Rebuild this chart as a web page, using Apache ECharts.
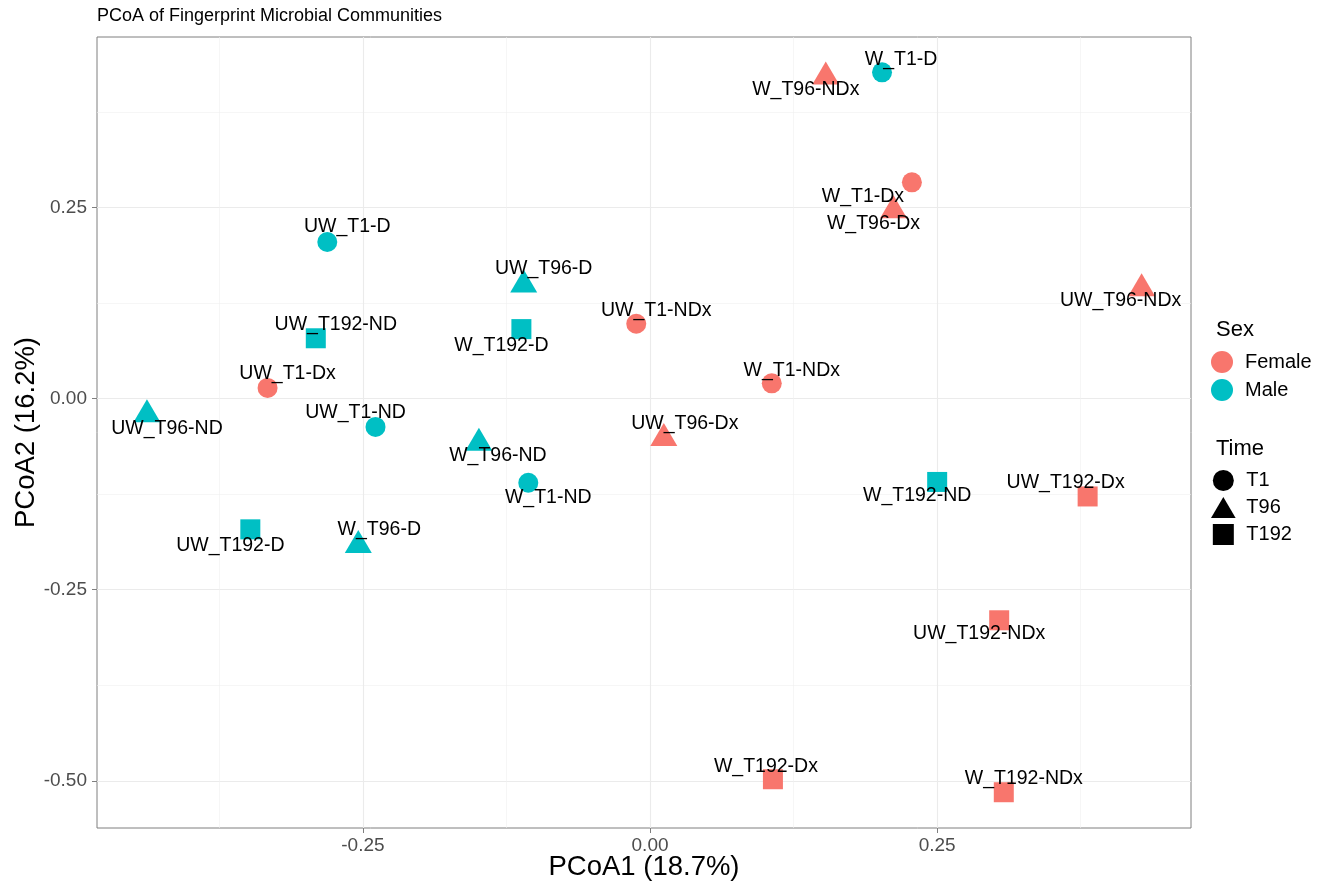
<!DOCTYPE html>
<html>
<head>
<meta charset="utf-8">
<title>PCoA</title>
<script src="https://cdn.jsdelivr.net/npm/echarts@6/dist/echarts.min.js"></script>
<style>
  html,body{margin:0;padding:0;background:#fff;}
  #main{width:1332px;height:895px;}
</style>
</head>
<body>
<div id="main"></div>
<script>
// sample data
const sampleNames = ['W_T96-NDx','W_T1-D','W_T1-Dx','W_T96-Dx','UW_T96-NDx','UW_T1-D','UW_T96-D','UW_T1-NDx',
  'UW_T192-ND','W_T192-D','UW_T1-Dx','W_T1-NDx','UW_T96-ND','UW_T1-ND','W_T96-ND','UW_T96-Dx',
  'W_T1-ND','W_T192-ND','UW_T192-Dx','UW_T192-D','W_T96-D','UW_T192-NDx','W_T192-Dx','W_T192-NDx'];
const pcoa1 = [0.153,0.202,0.228,0.212,0.428,-0.281,-0.110,-0.012,
  -0.291,-0.112,-0.333,0.106,-0.438,-0.239,-0.149,0.012,
  -0.106,0.250,0.381,-0.348,-0.254,0.304,0.107,0.308];
const pcoa2 = [0.426,0.427,0.283,0.251,0.149,0.205,0.154,0.098,
  0.079,0.091,0.014,0.020,-0.016,-0.037,-0.053,-0.047,
  -0.110,-0.109,-0.128,-0.171,-0.187,-0.290,-0.498,-0.515];
const sex = ['Female','Male','Female','Female','Female','Male','Male','Female',
  'Male','Male','Female','Female','Male','Male','Male','Female',
  'Male','Male','Female','Male','Male','Female','Female','Female'];
const time = ['T96','T1','T1','T96','T96','T1','T96','T1',
  'T192','T192','T1','T1','T96','T1','T96','T96',
  'T1','T192','T192','T192','T96','T192','T192','T192'];

const sexLevels = ['Female','Male'];
const timeLevels = ['T1','T96','T192'];
const xTicks = [-0.25, 0, 0.25];
const yTicks = [-0.5, -0.25, 0, 0.25];
const xMinor = [-0.375, -0.125, 0.125, 0.375];
const yMinor = [-0.375, -0.125, 0.125, 0.375];

// label nudges (px) like ggrepel did
const labelOffsets = [[-20,17],[19,-13],[-49,14],[-20,17],[-21,16],[20,-15],[20,-12],[20,-13],
  [20,-14],[-20,17],[20,-14],[20,-13],[20,18],[-20,-14],[19,16],[21,-11],
  [20,15],[-20,14],[-22,-14],[-20,16],[21,-12],[-20,13],[-7,-13],[20,-14]];

const colors = {Female:'#F8766D', Male:'#00BFC4'};
const shapes = {T1:'circle', T96:'triangle', T192:'rect'};
const sizes = {T1:20, T96:[27,23], T192:20};
const font = "'Liberation Sans', Arial, sans-serif";

let chart = echarts.init(document.getElementById('main'), null, {renderer:'canvas'});

let series = sexLevels.map(s => {
  let data = [];
  sampleNames.forEach((n, i) => {
    if (sex[i] != s) return;
    data.push({
      name: n,
      value: [pcoa1[i], pcoa2[i]],
      symbol: shapes[time[i]],
      symbolSize: sizes[time[i]],
      label: {offset: labelOffsets[i]}
    });
  });
  return {
    name: s,
    type: 'scatter',
    symbol: 'circle',
    itemStyle: {color: colors[s], opacity: 1},
    label: {
      show: true, position: 'inside', formatter: '{b}',
      color: '#000', fontSize: 19.5, fontFamily: font
    },
    emphasis: {disabled: true},
    data: data
  };
});
// empty series, only for the Time legend
timeLevels.forEach(t => {
  series.push({name: t, type: 'scatter', symbol: shapes[t], itemStyle: {color: '#000', opacity: 1}, data: []});
});

const axisBase = {
  type: 'value',
  axisLine: {show: false, onZero: false},
  splitLine: {show: true, lineStyle: {color: '#EBEBEB', width: 1.1}}
};

const option = {
  backgroundColor: '#fff',
  animation: false,
  title: [
    {text: 'PCoA of Fingerprint Microbial Communities', left: 97, top: 7, padding: 0,
      textStyle: {fontSize: 18, fontWeight: 'normal', color: '#000', fontFamily: font}},
    {text: 'Sex', left: 1216, top: 319, padding: 0,
      textStyle: {fontSize: 22, fontWeight: 'normal', color: '#000', fontFamily: font}},
    {text: 'Time', left: 1216, top: 438, padding: 0,
      textStyle: {fontSize: 22, fontWeight: 'normal', color: '#000', fontFamily: font}}
  ],
  grid: {left: 97, right: 141, top: 37, bottom: 67, show: true, borderColor: '#7F7F7F', borderWidth: 1,
    backgroundColor: '#fff', containLabel: false, outerBoundsMode: 'none'},
  legend: [
    {data: sexLevels, orient: 'vertical', left: 1211, top: 351, padding: 0, itemGap: 6,
      itemWidth: 36, itemHeight: 22, icon: 'circle', selectedMode: false,
      textStyle: {fontSize: 20, color: '#000', fontFamily: font}},
    {data: [{name: 'T1', icon: 'circle', itemStyle: {color: '#000'}},
            {name: 'T96', icon: 'path://M13.5,0L27,23L0,23Z', itemStyle: {color: '#000'}},
            {name: 'T192', icon: 'path://M0,0H10V10H0Z', itemStyle: {color: '#000'}}],
      orient: 'vertical', left: 1211, top: 470, padding: 0, itemGap: 6,
      itemWidth: 36, itemHeight: 21, selectedMode: false,
      textStyle: {fontSize: 20, color: '#000', fontFamily: font}}
  ],
  xAxis: [
    Object.assign({}, axisBase, {
      min: -0.4815, max: 0.4710,
      name: 'PCoA1 (18.7%)', nameLocation: 'middle', nameGap: 25, nameMoveOverlap: false,
      nameTextStyle: {fontSize: 27.5, color: '#000', fontFamily: font},
      axisTick: {show: true, length: 5, customValues: xTicks, lineStyle: {color: '#7F7F7F'}},
      axisLabel: {customValues: xTicks, margin: 8, fontSize: 19, color: '#4D4D4D', fontFamily: font,
        formatter: v => v.toFixed(2)}
    }),
    Object.assign({}, axisBase, {
      min: -0.4815, max: 0.4710, position: 'top',
      axisTick: {show: false, customValues: xMinor},
      axisLabel: {show: false},
      splitLine: {show: true, lineStyle: {color: '#F0F0F0', width: 0.6}}
    })
  ],
  yAxis: [
    Object.assign({}, axisBase, {
      min: -0.5618, max: 0.4732,
      name: 'PCoA2 (16.2%)', nameLocation: 'middle', nameGap: 57, nameRotate: 90, nameMoveOverlap: false,
      nameTextStyle: {fontSize: 27.5, color: '#000', fontFamily: font},
      axisTick: {show: true, length: 5, customValues: yTicks, lineStyle: {color: '#7F7F7F'}},
      axisLabel: {customValues: yTicks, margin: 10, fontSize: 19, color: '#4D4D4D', fontFamily: font,
        formatter: v => v.toFixed(2)}
    }),
    Object.assign({}, axisBase, {
      min: -0.5618, max: 0.4732, position: 'right',
      axisTick: {show: false, customValues: yMinor},
      axisLabel: {show: false},
      splitLine: {show: true, lineStyle: {color: '#F0F0F0', width: 0.6}}
    })
  ],
  series: series
};

chart.setOption(option);
</script>
</body>
</html>
